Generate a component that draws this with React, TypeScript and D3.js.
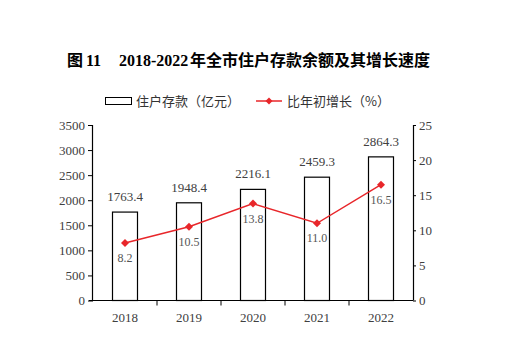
import React, { useRef, useEffect } from 'react';
import * as d3 from 'd3';

const years = ['2018', '2019', '2020', '2021', '2022'];
const deposits = [1763.4, 1948.4, 2216.1, 2459.3, 2864.3];
const growth = [8.2, 10.5, 13.8, 11.0, 16.5];
const leftTicks = [0, 500, 1000, 1500, 2000, 2500, 3000, 3500];
const rightTicks = [0, 5, 10, 15, 20, 25];

const W = 522;
const H = 353;
const serif = '"Liberation Serif", "DejaVu Serif", serif';
const cjk = '"Noto Sans CJK SC", sans-serif';

const diamond = (r: number) => `M0,${-r}L${r},0L0,${r}L${-r},0Z`;

const App: React.FC = () => {
  const svgRef = useRef<SVGSVGElement>(null);

  useEffect(() => {
    if (!svgRef.current) return;
    const svg = d3.select(svgRef.current);
    svg.selectAll('*').remove();

    const m = { left: 93, right: 413, top: 125, bottom: 300.5 };
    const red = '#e8262a';

    const x = d3.scaleBand<string>().domain(years).range([m.left, m.right]);
    const yL = d3.scaleLinear().domain([0, 3500]).range([m.bottom, m.top]);
    const yR = d3.scaleLinear().domain([0, 25]).range([m.bottom, m.top]);

    // Title
    const title = svg.append('text')
      .attr('y', 66)
      .style('font-size', '16px')
      .style('font-weight', 'bold')
      .attr('fill', '#000');
    title.append('tspan').attr('x', 67).style('font-family', cjk).text('图');
    title.append('tspan').attr('x', 86).style('font-family', serif).text('11');
    title.append('tspan').attr('x', 119).style('font-family', serif).text('2018-2022');
    title.append('tspan').attr('x', 190).style('font-family', cjk).text('年全市住户存款余额及其增长速度');

    // Legend
    const lg = svg.append('g');
    lg.append('rect')
      .attr('x', 105.5).attr('y', 97.5).attr('width', 26).attr('height', 7)
      .attr('fill', '#fff').attr('stroke', '#000').attr('stroke-width', 1);
    lg.append('text')
      .attr('x', 136).attr('y', 106)
      .style('font-family', cjk).style('font-size', '13px').attr('fill', '#333')
      .text('住户存款（亿元）');
    lg.append('line')
      .attr('x1', 256).attr('x2', 282).attr('y1', 101).attr('y2', 101)
      .attr('stroke', red).attr('stroke-width', 1.5);
    lg.append('path')
      .attr('d', diamond(3.5))
      .attr('transform', 'translate(269,101)')
      .attr('fill', red);
    lg.append('text')
      .attr('x', 287).attr('y', 106)
      .style('font-family', cjk).style('font-size', '13px').attr('fill', '#333')
      .text('比年初增长（%）');

    // Bars
    const barW = 25;
    svg.append('g').selectAll('rect')
      .data(deposits)
      .enter().append('rect')
      .attr('x', (d, i) => (x(years[i]) as number) + x.bandwidth() / 2 - barW / 2)
      .attr('y', d => yL(d))
      .attr('width', barW)
      .attr('height', d => m.bottom - yL(d))
      .attr('fill', '#fff')
      .attr('stroke', '#000')
      .attr('stroke-width', 1.2);

    svg.append('g').selectAll('text')
      .data(deposits)
      .enter().append('text')
      .attr('x', (d, i) => (x(years[i]) as number) + x.bandwidth() / 2)
      .attr('y', d => yL(d) - 11)
      .attr('text-anchor', 'middle')
      .style('font-family', serif).style('font-size', '13px').attr('fill', '#404040')
      .text(d => d.toFixed(1));

    // Axes
    const axisL = svg.append('g')
      .attr('transform', `translate(${m.left},0)`)
      .call(d3.axisLeft(yL).tickValues(leftTicks).tickSize(5).tickPadding(3).tickFormat(d3.format('d')));
    const axisR = svg.append('g')
      .attr('transform', `translate(${m.right},0)`)
      .call(d3.axisRight(yR).tickValues(rightTicks).tickSize(3).tickPadding(3).tickFormat(d3.format('d')));
    const axisB = svg.append('g')
      .attr('transform', `translate(0,${m.bottom})`)
      .call(d3.axisBottom(x).tickSize(0).tickPadding(12));

    [axisL, axisR, axisB].forEach(a => {
      a.select('.domain').attr('stroke', '#000').attr('stroke-width', 1.2);
      a.selectAll('.tick line').attr('stroke', '#000');
      a.selectAll('text')
        .style('font-family', serif).style('font-size', '13px').attr('fill', '#404040');
    });
    axisL.select('.domain').attr('d', `M-0.5,${m.top}V${m.bottom}`);
    axisR.select('.domain').attr('d', `M0.5,${m.top}V${m.bottom}`);
    axisB.select('.domain').attr('d', `M${m.left - 4},0H${m.right}`);

    // Category separator ticks on x axis
    svg.append('g').selectAll('line')
      .data(years.slice(1))
      .enter().append('line')
      .attr('x1', d => x(d) as number).attr('x2', d => x(d) as number)
      .attr('y1', m.bottom).attr('y2', m.bottom + 5)
      .attr('stroke', '#000');

    // Growth line
    const cx = (i: number) => (x(years[i]) as number) + x.bandwidth() / 2;
    const line = d3.line<number>()
      .x((d, i) => cx(i))
      .y(d => yR(d));
    svg.append('path')
      .datum(growth)
      .attr('d', line)
      .attr('fill', 'none')
      .attr('stroke', red)
      .attr('stroke-width', 1.5);

    svg.append('g').selectAll('path')
      .data(growth)
      .enter().append('path')
      .attr('d', diamond(4))
      .attr('transform', (d, i) => `translate(${cx(i)},${yR(d)})`)
      .attr('fill', red);

    svg.append('g').selectAll('text')
      .data(growth)
      .enter().append('text')
      .attr('x', (d, i) => cx(i))
      .attr('y', d => yR(d) + 19)
      .attr('text-anchor', 'middle')
      .style('font-family', serif).style('font-size', '12px').attr('fill', '#555')
      .text(d => d.toFixed(1));
  }, []);

  return (
    <svg
      ref={svgRef}
      width={W}
      height={H}
      style={{ position: 'absolute', left: 0, top: 0, background: '#fff' }}
    />
  );
};

export default App;
